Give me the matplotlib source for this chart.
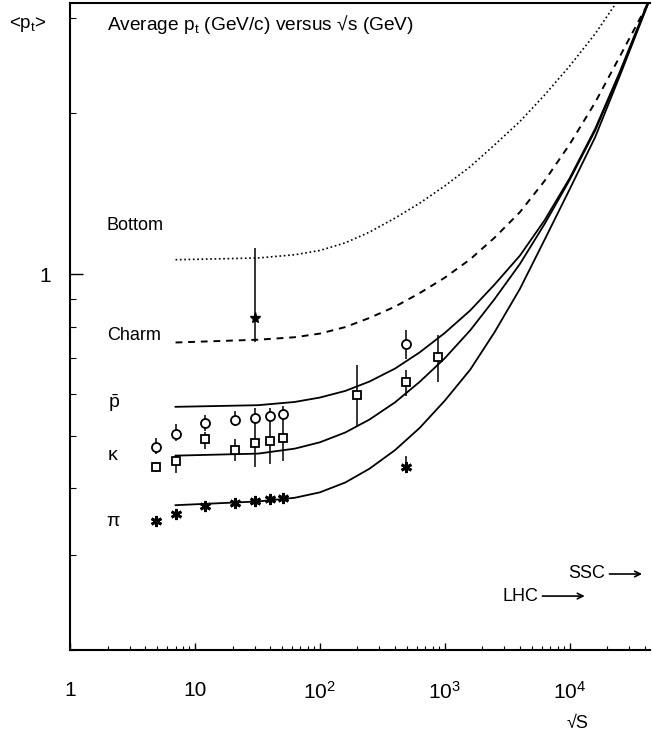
import numpy as np
import matplotlib
matplotlib.use("Agg")
import matplotlib.pyplot as plt
from matplotlib.ticker import LogLocator, NullFormatter, FixedLocator, FixedFormatter

plt.rcParams['font.family'] = ['Liberation Sans', 'DejaVu Sans']
plt.rcParams['mathtext.fontset'] = 'custom'
plt.rcParams['mathtext.rm'] = 'Liberation Sans'
plt.rcParams['mathtext.it'] = 'Liberation Sans:italic'

# theory curves (sqrt(s) in GeV, <pt> in GeV/c)
curve_x = [7, 32, 63, 100, 160, 250, 400, 630, 1000, 1600, 2500, 4000, 6300, 10000, 16000, 25000, 43000]

bottom_x = curve_x[:-1]
bottom_y = [1.065, 1.073, 1.088, 1.108, 1.145, 1.199, 1.273, 1.357, 1.461, 1.587, 1.741, 1.926,
            2.157, 2.442, 2.804, 3.264]

charm_x = curve_x[:-1] + [42000]
charm_y = [0.747, 0.756, 0.764, 0.776, 0.798, 0.83, 0.871, 0.923, 0.986, 1.067, 1.17, 1.306,
           1.493, 1.746, 2.089, 2.535, 3.18]

pbar_y = [0.567, 0.571, 0.579, 0.59, 0.607, 0.632, 0.668, 0.716, 0.778, 0.857, 0.957, 1.084,
          1.261, 1.51, 1.866, 2.371, 3.24]
kaon_y = [0.46, 0.464, 0.474, 0.487, 0.508, 0.537, 0.578, 0.631, 0.698, 0.787, 0.899, 1.046,
          1.241, 1.499, 1.852, 2.353, 3.217]
pion_y = [0.372, 0.378, 0.384, 0.393, 0.41, 0.435, 0.471, 0.518, 0.582, 0.665, 0.78, 0.94,
          1.16, 1.44, 1.8, 2.33, 3.214]

# data points: value, lower end and upper end of the error bar
low_x = [4.9, 7.05, 12, 21, 30, 40, 51]
circ_y = [0.477, 0.505, 0.528, 0.535, 0.541, 0.545, 0.55]
circ_lo = [0.464, 0.49, 0.511, 0.523, 0.528, 0.531, 0.537]
circ_hi = [0.497, 0.526, 0.547, 0.557, 0.563, 0.565, 0.57]
sq_y = [0.438, 0.449, 0.494, 0.472, 0.485, 0.49, 0.496]
sq_lo = [0.428, 0.427, 0.474, 0.45, 0.438, 0.444, 0.45]
sq_hi = [0.447, 0.46, 0.509, 0.494, 0.531, 0.535, 0.539]
star_y = [0.348, 0.358, 0.371, 0.376, 0.379, 0.382, 0.384]

high_sq_x = [199, 494, 885]
high_sq_y = [0.597, 0.63, 0.702]
high_sq_lo = [0.52, 0.595, 0.63]
high_sq_hi = [0.677, 0.663, 0.77]
high_circ_x = [494]
high_circ_y = [0.743]
high_circ_lo = [0.697]
high_circ_hi = [0.789]
high_star_x = [494]
high_star_y = [0.438]
high_star_lo = [0.427]
high_star_hi = [0.46]

charm_pt_x = [30]
charm_pt_y = [0.83]
charm_pt_lo = [0.75]
charm_pt_hi = [1.118]

xticks = [1, 10, 100, 1000, 10000]
xticklabels = ['1', '10', r'$10^{2}$', r'$10^{3}$', r'$10^{4}$']


def errs(y, lo, hi):
    y = np.array(y)
    return [y - np.array(lo), np.array(hi) - y]


W, H = 652, 738
fig = plt.figure(figsize=(W / 100, H / 100), dpi=100)
ax = fig.add_axes([70 / W, 1 - 650 / H, 580 / W, 647 / H])
ax.set_xscale('log')
ax.set_yscale('log')
ax.set_xlim(1, 4.4e4)
ax.set_ylim(0.2, 3.2)

lw = 1.3
ax.plot(bottom_x, bottom_y, color='k', lw=1.2, ls=(0, (1, 1.6)))
ax.plot(charm_x, charm_y, color='k', lw=1.4, ls=(0, (3.5, 3)))
ax.plot(curve_x, pbar_y, color='k', lw=lw)
ax.plot(curve_x, kaon_y, color='k', lw=lw)
ax.plot(curve_x, pion_y, color='k', lw=lw)

ebk = dict(fmt='none', ecolor='k', elinewidth=1.1, capsize=0)
ax.errorbar(low_x, circ_y, yerr=errs(circ_y, circ_lo, circ_hi), **ebk)
ax.errorbar(low_x, sq_y, yerr=errs(sq_y, sq_lo, sq_hi), **ebk)
ax.errorbar(high_sq_x, high_sq_y, yerr=errs(high_sq_y, high_sq_lo, high_sq_hi), **ebk)
ax.errorbar(high_circ_x, high_circ_y, yerr=errs(high_circ_y, high_circ_lo, high_circ_hi), **ebk)
ax.errorbar(high_star_x, high_star_y, yerr=errs(high_star_y, high_star_lo, high_star_hi), **ebk)
ax.errorbar(charm_pt_x, charm_pt_y, yerr=errs(charm_pt_y, charm_pt_lo, charm_pt_hi), **ebk)

ax.plot(low_x, circ_y, 'o', ms=6.5, mfc='white', mec='k', mew=1.3, ls='none', zorder=4)
ax.plot(low_x + high_sq_x, sq_y + high_sq_y, 's', ms=6, mfc='white', mec='k', mew=1.3, ls='none', zorder=4)
ax.plot(high_circ_x, high_circ_y, 'o', ms=6.5, mfc='white', mec='k', mew=1.3, ls='none', zorder=4)
ax.plot(low_x + high_star_x, star_y + high_star_y, marker=(6, 2, 0), ms=8, mec='k', mew=2, ls='none', zorder=4)
ax.plot(charm_pt_x, charm_pt_y, '*', ms=8, color='k', ls='none', zorder=4)

# axes styling
for side in ['left', 'bottom', 'top']:
    ax.spines[side].set_linewidth(1.5)
ax.spines['right'].set_visible(False)

ax.xaxis.set_major_locator(FixedLocator(xticks))
ax.xaxis.set_major_formatter(FixedFormatter(xticklabels))
ax.xaxis.set_minor_locator(LogLocator(base=10, subs=np.arange(2, 10)))
ax.xaxis.set_minor_formatter(NullFormatter())
ax.yaxis.set_major_locator(FixedLocator([1]))
ax.yaxis.set_major_formatter(FixedFormatter(['1']))
ax.yaxis.set_minor_locator(LogLocator(base=10, subs=np.arange(2, 10)))
ax.yaxis.set_minor_formatter(NullFormatter())
ax.tick_params(axis='x', which='major', direction='in', length=5, width=1, pad=22, labelsize=15)
ax.tick_params(axis='x', which='minor', direction='in', length=3, width=0.8)
ax.tick_params(axis='y', which='major', direction='in', length=9, width=1, pad=14, labelsize=15)
ax.tick_params(axis='y', which='minor', direction='in', length=4, width=0.8)


def ftext(x, y, s, **kw):
    fig.text(x / W, 1 - y / H, s, va='center', **kw)


fs = 13
ftext(28, 24, r'<$\mathrm{p_t}$>', ha='center', fontsize=fs + 0.5)
ftext(107, 24, r'Average $\mathrm{p_t}$ (GeV/c) versus √s (GeV)', ha='left', fontsize=fs + 0.8)
ftext(107, 225, 'Bottom', ha='left', fontsize=fs)
ftext(107, 336, 'Charm', ha='left', fontsize=fs)
ftext(114, 403, r'$\bar{\mathrm{p}}$', ha='center', fontsize=fs + 1)
ftext(113, 456, 'κ', ha='center', fontsize=fs + 1)
ftext(113, 521, 'π', ha='center', fontsize=fs + 1)
ftext(577, 724, '√S', ha='center', fontsize=fs)

# collider markers
ax.text(5600, 0.252, 'LHC', ha='right', va='center', fontsize=fs)
ax.annotate('', xy=(13900, 0.252), xytext=(5750, 0.252),
            arrowprops=dict(arrowstyle='->', lw=1.2, color='k'))
ax.text(19300, 0.277, 'SSC', ha='right', va='center', fontsize=fs)
ax.annotate('', xy=(40000, 0.277), xytext=(19800, 0.277),
            arrowprops=dict(arrowstyle='->', lw=1.2, color='k'), annotation_clip=False)

fig.savefig('out.png', dpi=100)
